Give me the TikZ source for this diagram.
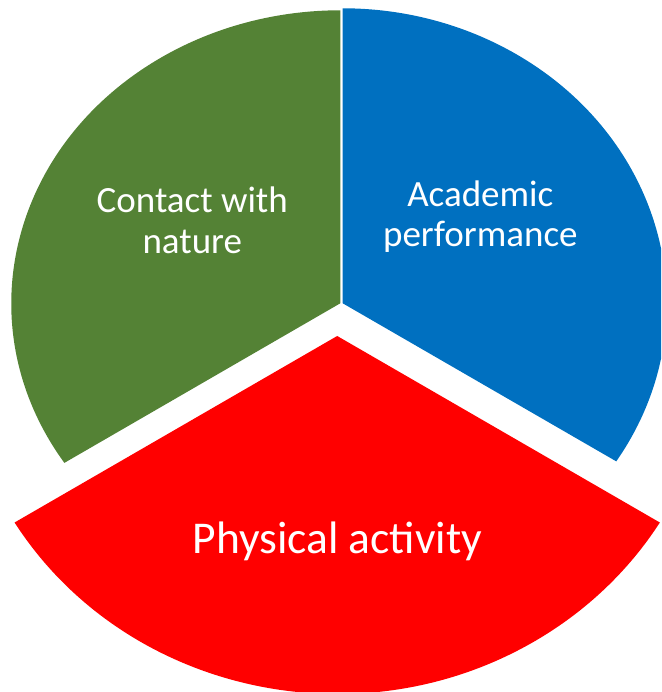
\documentclass[tikz,border=0pt]{standalone}
\usepackage{fontspec}
\setmainfont{Carlito}
\definecolor{vert}{RGB}{84,130,53}
\definecolor{bleu}{RGB}{0,112,192}
\definecolor{rouge}{RGB}{255,0,0}
\tikzstyle{slicetext}=[text=white, align=center, anchor=base, inner sep=0pt, font=\fontsize{37}{40.6}\selectfont]
\newcommand{\pieslice}[6]{ \fill[#1] (#2) -- ++(#3:#4 and #5) arc[start angle=#3, end angle=#6, x radius=#4, y radius=#5] -- cycle; }

\begin{document}
\begin{tikzpicture}[x=1pt,y=1pt]

 \useasboundingbox (0,0) rectangle (661,692);
 \clip (0,0) rectangle (661,692);

 \coordinate (Cg) at (340.3,388.7);
 \coordinate (Cb) at (342.7,388.7);
 \coordinate (Cr) at (337.2,356);

 % three slices, the red one pulled out
 \pieslice{vert}{Cg}{213}{329}{293}{90}
 \pieslice{bleu}{Cb}{-32.4}{324}{295}{90}
 \pieslice{rouge}{Cr}{211.4}{378}{358}{328.6}

 \node[slicetext] (nature) at (192.3,438.7) {Contact with\\nature};
 \node[slicetext] (academic) at (480.3,445) {Academic\\performance};
 \node[slicetext, font=\fontsize{45.5}{50}\selectfont] (activity) at (337.3,138.2) {Physical activity};

\end{tikzpicture}
\end{document}
